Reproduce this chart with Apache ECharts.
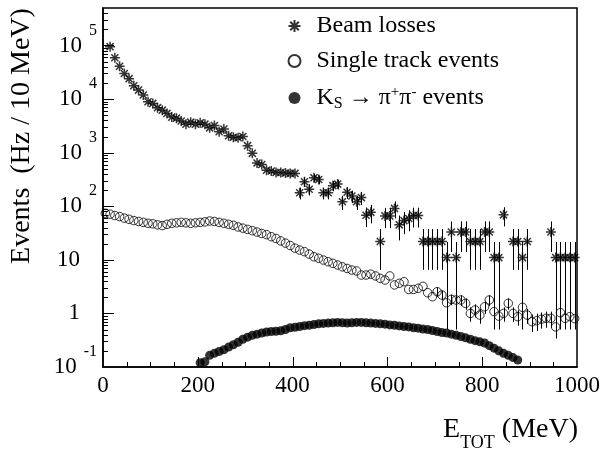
<!DOCTYPE html>
<html>
<head>
<meta charset="utf-8">
<script src="https://cdn.jsdelivr.net/npm/echarts@6/dist/echarts.min.js"></script>
<style>html,body{margin:0;padding:0;background:#fff}#c{width:603px;height:449px}</style>
</head>
<body>
<div id="c"></div>
<script>
// ---- data ----
const beamE = [15,25,35,45,55,65,75,85,95,105,115,125,135,145,155,165,175,185,195,205,215,225,235,245,255,265,275,285,295,305,315,325,335,345,355,365,375,385,395,405,415,425,435,445,455,465,475,485,495,505,515,525,535,545,555,565,585,595,605,615,625,635,645,655,665,675,685,695,705,715,725,735,745,755,765,775,785,795,805,815,825,835,845,865,875,885,895,945,955,965,975,985,995];
const beamVal = [95000,59000,41000,30000,24000,17700,14700,11900,8900,8300,6900,6200,5400,4600,4400,3900,3400,3700,3400,3600,3400,2900,3200,2450,2750,2070,1930,1900,2000,1350,970,640,600,470,455,425,425,415,410,410,178,286,207,340,316,178,178,242,259,121,182,155,121,145,68,77,22,66,66,91,45,54,59,67,67,22,22,22,22,22,11,33,11,33,33,22,22,22,33,33,11,11,69,22,22,11,22,33,11,11,11,11,11];
const beamErr = [0,0,0,0,0,0,0,0,0,0,0,0,0,0,0,0,0,0,0,0,0,0,0,0,0,0,0,0,0,0,0,0,0,0,0,0,0,0,0,0,44,56,48,61,59,44,44,52,53,36,45,41,36,40,27,29,15.5,27,27,32,22,24,25,27,27,15.5,15.5,15.5,15.5,15.5,10.5,19,10.5,19,19,15.5,15.5,15.5,19,19,10.5,10.5,27,15.5,15.5,10.5,15.5,19,10.5,10.5,10.5,10.5,10.5];

const singleE = [5,15,25,35,45,55,65,75,85,95,105,115,125,135,145,155,165,175,185,195,205,215,225,235,245,255,265,275,285,295,305,315,325,335,345,355,365,375,385,395,405,415,425,435,445,455,465,475,485,495,505,515,525,535,545,555,565,575,585,595,605,615,625,635,645,655,665,675,685,695,705,715,725,735,745,755,765,775,785,795,805,815,825,835,845,855,865,875,885,895,905,915,925,935,945,955,965,975,985,995];
const singleVal = [74,71,67,64,60,57,54,52,50,48,47,45,43.5,46,48,49,50,49,48,49,50,51,53,52,50,48,46,44,41,39,37,35,33,31,29.5,27,25,22.5,20.5,18.5,16.5,15.2,14.2,12.8,11.4,10.7,9.9,9.2,8.6,8.0,7.4,6.9,6.45,6.2,5.2,5.2,5.4,5.0,4.5,4.2,5.0,3.4,3.65,3.9,2.8,2.8,2.94,3.2,2.43,2.05,2.54,2.2,1.58,1.83,1.78,1.78,1.54,1.0,1.16,0.93,1.33,1.78,1.08,0.89,1.0,1.54,1.0,0.87,1.3,0.93,0.70,0.73,0.78,0.81,0.81,0.56,1.03,0.81,0.87,0.8];
const singleErrTail = [0.48,0.45,0.38,0.41,0.4,0.4,0.37,0.3,0.32,0.29,0.35,0.4,0.31,0.28,0.3,0.37,0.3,0.28,0.34,0.29,0.25,0.26,0.26,0.27,0.27,0.22,0.3,0.27,0.28,0.27];

const ksE = [205,215,225,235,245,255,265,275,285,295,305,315,325,335,345,355,365,375,385,395,405,415,425,435,445,455,465,475,485,495,505,515,525,535,545,555,565,575,585,595,605,615,625,635,645,655,665,675,685,695,705,715,725,735,745,755,765,775,785,795,805,815,825,835,845,855,865,875];
const ksVal = [0.12,0.125,0.165,0.18,0.195,0.21,0.235,0.26,0.29,0.33,0.36,0.39,0.41,0.43,0.45,0.46,0.465,0.475,0.5,0.54,0.55,0.57,0.59,0.6,0.62,0.64,0.65,0.66,0.67,0.68,0.67,0.66,0.67,0.68,0.68,0.67,0.66,0.65,0.64,0.63,0.61,0.6,0.585,0.57,0.56,0.54,0.53,0.51,0.5,0.48,0.46,0.44,0.43,0.41,0.39,0.37,0.35,0.33,0.31,0.295,0.28,0.25,0.225,0.2,0.18,0.165,0.15,0.135];

const xTicks = {min: 0, max: 1000, interval: 200, minorStep: 50};
const yRange = {min: 0.1, max: 5e5};
const yDecades = [1, 10, 100, 1000, 10000, 100000];
const yMinorBase = [0.1, 1, 10, 100, 1000, 10000, 100000];
const yMinorMult = [2, 3, 4, 5, 6, 7, 8, 9];

// ---- build ----
const singleErr = new Array(singleE.length - singleErrTail.length).fill(0).concat(singleErrTail);
function errData(E, V, Err) {
  const out = [];
  for (let i = 0; i < E.length; i++) if (Err[i] > 0) out.push([E[i], V[i] - Err[i], V[i] + Err[i]]);
  return out;
}
// tick positions (interior values only; the ends coincide with the frame)
const xTickData = [];
for (let v = xTicks.min + xTicks.minorStep; v < xTicks.max; v += xTicks.minorStep) xTickData.push([v, 1, 1]);
const yTickData = [];
yDecades.forEach(d => yTickData.push([500, d, d]));
yMinorBase.forEach(d => yMinorMult.forEach(m => { const v = d * m; if (v < yRange.max) yTickData.push([500, v, v]); }));

const FONT = 'Liberation Serif';
const STAR = 'path://M0,-10L0,10M-10,0L10,0M-7.07,-7.07L7.07,7.07M-7.07,7.07L7.07,-7.07';
function errRender(params, api) {
  const p1 = api.coord([api.value(0), api.value(1)]);
  const p2 = api.coord([api.value(0), api.value(2)]);
  const x = Math.round(p1[0]) + 0.5;
  return {type: 'line', shape: {x1: x, y1: p1[1], x2: x, y2: p2[1]}, style: {stroke: '#000', lineWidth: 1}};
}
function xTickRender(params, api) {
  const v = api.value(0);
  const p = api.coord([v, api.value(1)]);
  const cs = params.coordSys;
  const bottom = cs.y + cs.height;
  const len = (v % xTicks.interval === 0) ? 10 : 5;
  const x = Math.round(p[0]) + 0.5;
  return {type: 'line', shape: {x1: x, y1: bottom, x2: x, y2: bottom - len}, style: {stroke: '#000', lineWidth: 1}};
}
function yTickRender(params, api) {
  const v = api.value(1);
  const p = api.coord([api.value(0), v]);
  const cs = params.coordSys;
  const l = Math.log10(v);
  const len = Math.abs(l - Math.round(l)) < 1e-6 ? 11 : 5;
  const y = Math.round(p[1]) + 0.5;
  return {type: 'line', shape: {x1: cs.x, y1: y, x2: cs.x + len, y2: y}, style: {stroke: '#000', lineWidth: 1}};
}

const chart = echarts.init(document.getElementById('c'), null, {renderer: 'canvas'});
chart.setOption({
  animation: false,
  backgroundColor: '#fff',
  grid: {left: 103, right: 26, top: 8, bottom: 82, show: true, borderColor: '#000', borderWidth: 1.5},
  xAxis: {
    type: 'value', min: xTicks.min, max: xTicks.max, interval: xTicks.interval,
    axisLine: {onZero: false, lineStyle: {color: '#000', width: 1.5}},
    axisTick: {show: false},
    minorTick: {show: false},
    splitLine: {show: false},
    axisLabel: {color: '#000', fontFamily: FONT, fontSize: 23, margin: 7, formatter: v => String(v)}
  },
  yAxis: {
    type: 'log', logBase: 10, min: yRange.min, max: yRange.max,
    axisLine: {show: true, lineStyle: {color: '#000', width: 1.5}},
    axisTick: {show: false},
    minorTick: {show: false},
    splitLine: {show: false},
    axisLabel: {
      margin: 6, color: '#000', fontFamily: FONT,
      formatter: function (v) {
        const l = Math.log10(v), e = Math.round(l);
        if (Math.abs(l - e) > 1e-6) return '';
        if (e === 0) return '{b|1}{sp| }';
        if (e === 1) return '{b|10}{sp| }';
        return '{b|10}{s|' + e + '}';
      },
      rich: {
        b: {fontFamily: FONT, fontSize: 23, color: '#000'},
        sp: {width: 17, fontSize: 10},
        s: {fontFamily: FONT, fontSize: 16, color: '#000', padding: [0, 0, 30, 7]}
      }
    }
  },
  legend: {
    orient: 'vertical', left: 286, top: 14, itemWidth: 12, itemHeight: 12, itemGap: 11,
    padding: 0,
    data: [
      {name: 'Beam losses', icon: STAR},
      {name: 'Single track events', icon: 'circle'},
      {name: 'KS', icon: 'circle'}
    ],
    textStyle: {
      fontFamily: FONT, fontSize: 24, color: '#000', lineHeight: 24, padding: [0, 0, 0, 11],
      rich: {
        t: {fontFamily: FONT, fontSize: 24, color: '#000', lineHeight: 24},
        sub: {fontFamily: FONT, fontSize: 16, color: '#000', lineHeight: 12, padding: [12, 0, 0, 0]},
        sup: {fontFamily: FONT, fontSize: 15, color: '#000', lineHeight: 12, padding: [0, 0, 12, 0]}
      }
    },
    formatter: function (name) {
      if (name === 'KS') return '{t|K}{sub|S}{t| \u2192 \u03c0}{sup|+}{t|\u03c0}{sup|-}{t| events}';
      return name;
    }
  },
  graphic: [
    {type: 'text', x: 22, y: 136, rotation: Math.PI / 2,
     style: {text: 'Events  (Hz / 10 MeV)', fontFamily: FONT, fontSize: 28, fill: '#000', align: 'center', verticalAlign: 'middle'}},
    {type: 'text', x: 578, y: 430,
     style: {text: '{a|E}{b|TOT}{a| (MeV)}', align: 'right', verticalAlign: 'middle',
       rich: {
         a: {fontFamily: FONT, fontSize: 28, fill: '#000', color: '#000'},
         b: {fontFamily: FONT, fontSize: 18, fill: '#000', color: '#000', padding: [26, 0, 0, 0]}
       }}}
  ],
  series: [
    {type: 'custom', name: 'xTicks', renderItem: xTickRender, data: xTickData, encode: {x: 0, y: [1, 2]}, clip: false, z: 1, silent: true},
    {type: 'custom', name: 'yTicks', renderItem: yTickRender, data: yTickData, encode: {x: 0, y: [1, 2]}, clip: false, z: 1, silent: true},
    {type: 'custom', name: 'beamErr', renderItem: errRender, data: errData(beamE, beamVal, beamErr), encode: {x: 0, y: [1, 2]}, clip: true, z: 1, silent: true},
    {type: 'scatter', name: 'Beam losses', data: beamE.map((e, i) => [e, beamVal[i]]), symbol: STAR, symbolSize: 10,
     itemStyle: {color: 'none', borderColor: '#000', borderWidth: 1.5}, z: 2},
    {type: 'custom', name: 'singleErr', renderItem: errRender, data: errData(singleE, singleVal, singleErr), encode: {x: 0, y: [1, 2]}, clip: true, z: 1, silent: true},
    {type: 'scatter', name: 'Single track events', data: singleE.map((e, i) => [e, singleVal[i]]), symbol: 'circle', symbolSize: 8.5,
     itemStyle: {color: 'rgba(0,0,0,0)', borderColor: '#000', borderWidth: 1}, z: 2},
    {type: 'scatter', name: 'KS', data: ksE.map((e, i) => [e, ksVal[i]]), symbol: 'circle', symbolSize: 9,
     itemStyle: {color: '#000'}, z: 2}
  ]
});
</script>
</body>
</html>
